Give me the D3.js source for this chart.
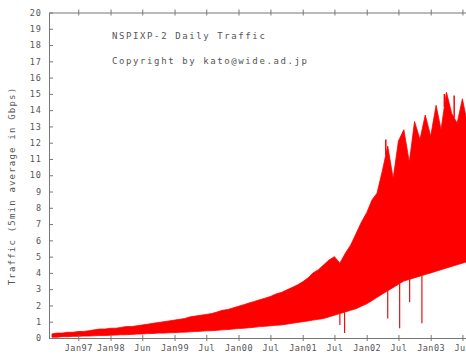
<!DOCTYPE html>
<html>
<head>
<meta charset="utf-8">
<script src="https://cdn.jsdelivr.net/npm/d3@7"></script>
<style>
  body { margin: 0; background: #fff; }
  text { font-family: "DejaVu Sans Mono", monospace; fill: #555; }
</style>
</head>
<body>
<div id="chart"></div>
<script>
// monthly samples, first of each month from Feb 1997
var startMonth = new Date(Date.UTC(1997, 1, 1));

// daily max (Gbps), one value per month
var upper = [
  0.25, 0.3, 0.3, 0.35, 0.35, 0.4, 0.4, 0.45, 0.5, 0.55,
  0.55, 0.6, 0.6, 0.65, 0.7, 0.7, 0.75, 0.8, 0.85, 0.9,
  0.95, 1.0, 1.05, 1.1, 1.15, 1.2, 1.3, 1.35, 1.4, 1.45,
  1.5, 1.6, 1.7, 1.75, 1.85, 1.95, 2.05, 2.15, 2.25, 2.35,
  2.45, 2.55, 2.7, 2.8, 2.95, 3.1, 3.25, 3.45, 3.7, 4.0,
  4.2, 4.5, 4.8, 5.0, 4.6, 5.2, 5.7, 6.4, 7.1, 7.7,
  8.5, 8.9, 10.3, 11.8, 9.8, 12.1, 12.8, 10.8, 13.3, 12.2,
  13.7, 12.4, 14.3, 12.8, 15.1, 13.8, 13.2, 14.7, 13.0, 14.8, 14.0
];

// daily min (Gbps)
var lower = [
  0.05, 0.05, 0.08, 0.08, 0.1, 0.1, 0.12, 0.12, 0.14, 0.15,
  0.15, 0.17, 0.18, 0.2, 0.2, 0.22, 0.24, 0.25, 0.27, 0.28,
  0.3, 0.3, 0.32, 0.33, 0.35, 0.36, 0.38, 0.4, 0.42, 0.44,
  0.45, 0.47, 0.5, 0.52, 0.55, 0.58, 0.6, 0.63, 0.66, 0.7,
  0.72, 0.75, 0.78, 0.8, 0.85, 0.9, 0.95, 1.0, 1.05, 1.1,
  1.15, 1.2, 1.3, 1.4, 1.5, 1.6, 1.7, 1.8, 1.95, 2.1,
  2.3, 2.5, 2.7, 2.9, 3.1, 3.3, 3.5, 3.6, 3.7, 3.8,
  3.9, 4.0, 4.1, 4.2, 4.3, 4.4, 4.5, 4.6, 4.7, 4.8, 4.9
];

// single bad days dropping below the band
var dipDates = ["2001-08-01", "2001-08-28", "2002-05-01", "2002-07-08", "2002-09-03", "2002-11-12"];
var dipValues = [0.8, 0.3, 1.2, 0.6, 2.2, 0.9];

// single peak days above the band
var peakDates = ["2002-04-20", "2003-03-20", "2003-05-15"];
var peakValues = [12.2, 15.0, 14.9];

var tickDates = ["1997-07-01", "1998-01-01", "1998-07-01", "1999-01-01", "1999-07-01", "2000-01-01",
                 "2000-07-01", "2001-01-01", "2001-07-01", "2002-01-01", "2002-07-01", "2003-01-01", "2003-07-01"];
var tickLabels = ["Jan97", "Jan98", "Jun", "Jan99", "Jul", "Jan00", "Jul",
                  "Jan01", "Jul", "Jan02", "Jul", "Jan03", "Jul"];

var yTicks = d3.range(0, 21);

var width = 466, height = 355;
var margin = { left: 49, top: 12.5, bottom: 17 };
var plotRight = 481;
var plotBottom = height - margin.bottom;

var data = upper.map(function (u, i) {
  return { date: d3.utcMonth.offset(startMonth, i), hi: u, lo: lower[i] };
});

var x = d3.scaleUtc()
          .domain([new Date(Date.UTC(1997, 0, 15)), new Date(Date.UTC(2003, 9, 15))])
          .range([margin.left, plotRight]);

var y = d3.scaleLinear()
          .domain([0, 20])
          .range([plotBottom, margin.top]);

var svg = d3.select("#chart")
            .append("svg")
            .attr("width", width)
            .attr("height", height);

svg.append("defs").append("clipPath")
   .attr("id", "plot-clip")
   .append("rect")
   .attr("x", margin.left)
   .attr("y", margin.top)
   .attr("width", plotRight - margin.left)
   .attr("height", plotBottom - margin.top);

var plot = svg.append("g").attr("clip-path", "url(#plot-clip)");

var area = d3.area()
             .x(function (d) { return x(d.date); })
             .y0(function (d) { return y(d.lo); })
             .y1(function (d) { return y(d.hi); });

plot.append("path")
    .datum(data)
    .attr("d", area)
    .attr("fill", "#ff0000")
    .attr("stroke", "#ff0000")
    .attr("stroke-width", 0.8);

// vertical lines for the odd days, ending at the band edge
var bisect = d3.bisector(function (d) { return d.date; }).left;
function bandAt(date, key) {
  var i = Math.max(1, Math.min(data.length - 1, bisect(data, date)));
  var a = data[i - 1], b = data[i];
  var t = (date - a.date) / (b.date - a.date);
  return a[key] + (b[key] - a[key]) * t;
}

var parse = d3.utcParse("%Y-%m-%d");

plot.selectAll(".dip")
    .data(dipDates.map(function (s, i) { return { date: parse(s), v: dipValues[i] }; }))
    .enter()
    .append("line")
    .attr("x1", function (d) { return x(d.date); })
    .attr("x2", function (d) { return x(d.date); })
    .attr("y1", function (d) { return y(d.v); })
    .attr("y2", function (d) { return y(bandAt(d.date, "lo")); })
    .attr("stroke", "#e81010")
    .attr("stroke-width", 1.2);

plot.selectAll(".peak")
    .data(peakDates.map(function (s, i) { return { date: parse(s), v: peakValues[i] }; }))
    .enter()
    .append("line")
    .attr("x1", function (d) { return x(d.date); })
    .attr("x2", function (d) { return x(d.date); })
    .attr("y1", function (d) { return y(d.v); })
    .attr("y2", function (d) { return y(bandAt(d.date, "hi")); })
    .attr("stroke", "#ff0000")
    .attr("stroke-width", 1.5);

// axes, gnuplot style: ticks crossing the border
var axisColor = "#777";

var xBottom = d3.axisBottom(x)
                .tickValues(tickDates.map(parse))
                .tickFormat(function (d, i) { return tickLabels[i]; })
                .tickSizeInner(3)
                .tickSizeOuter(0)
                .tickPadding(4);

var gx = svg.append("g")
            .attr("transform", "translate(0," + plotBottom + ")")
            .call(xBottom);
gx.selectAll(".tick line").attr("y1", -3);
gx.selectAll("text")
  .style("font-size", "8.5px")
  .style("letter-spacing", "0.5px");

var xTop = d3.axisTop(x)
             .tickValues(tickDates.map(parse))
             .tickFormat("")
             .tickSizeInner(3)
             .tickSizeOuter(0);

var gxt = svg.append("g")
             .attr("transform", "translate(0," + margin.top + ")")
             .call(xTop);
gxt.selectAll(".tick line").attr("y1", 3);

var yLeft = d3.axisLeft(y)
              .tickValues(yTicks)
              .tickFormat(d3.format("d"))
              .tickSizeInner(-4)
              .tickSizeOuter(0)
              .tickPadding(7);

var gy = svg.append("g")
            .attr("transform", "translate(" + margin.left + ",0)")
            .call(yLeft);
gy.selectAll("text")
  .style("font-size", "8.5px")
  .style("letter-spacing", "1px");

svg.selectAll(".domain, .tick line")
   .attr("stroke", axisColor)
   .attr("stroke-width", 1);

var labelFont = "9px";

svg.append("text")
   .attr("transform", "translate(15,186) rotate(-90)")
   .attr("text-anchor", "middle")
   .style("font-size", labelFont)
   .style("letter-spacing", "1.2px")
   .text("Traffic (5min average in Gbps)");

svg.append("text")
   .attr("x", 112)
   .attr("y", 39)
   .style("font-size", labelFont)
   .style("letter-spacing", "1.6px")
   .text("NSPIXP-2 Daily Traffic");

svg.append("text")
   .attr("x", 112)
   .attr("y", 64)
   .style("font-size", labelFont)
   .style("letter-spacing", "1.6px")
   .text("Copyright by kato@wide.ad.jp");
</script>
</body>
</html>
